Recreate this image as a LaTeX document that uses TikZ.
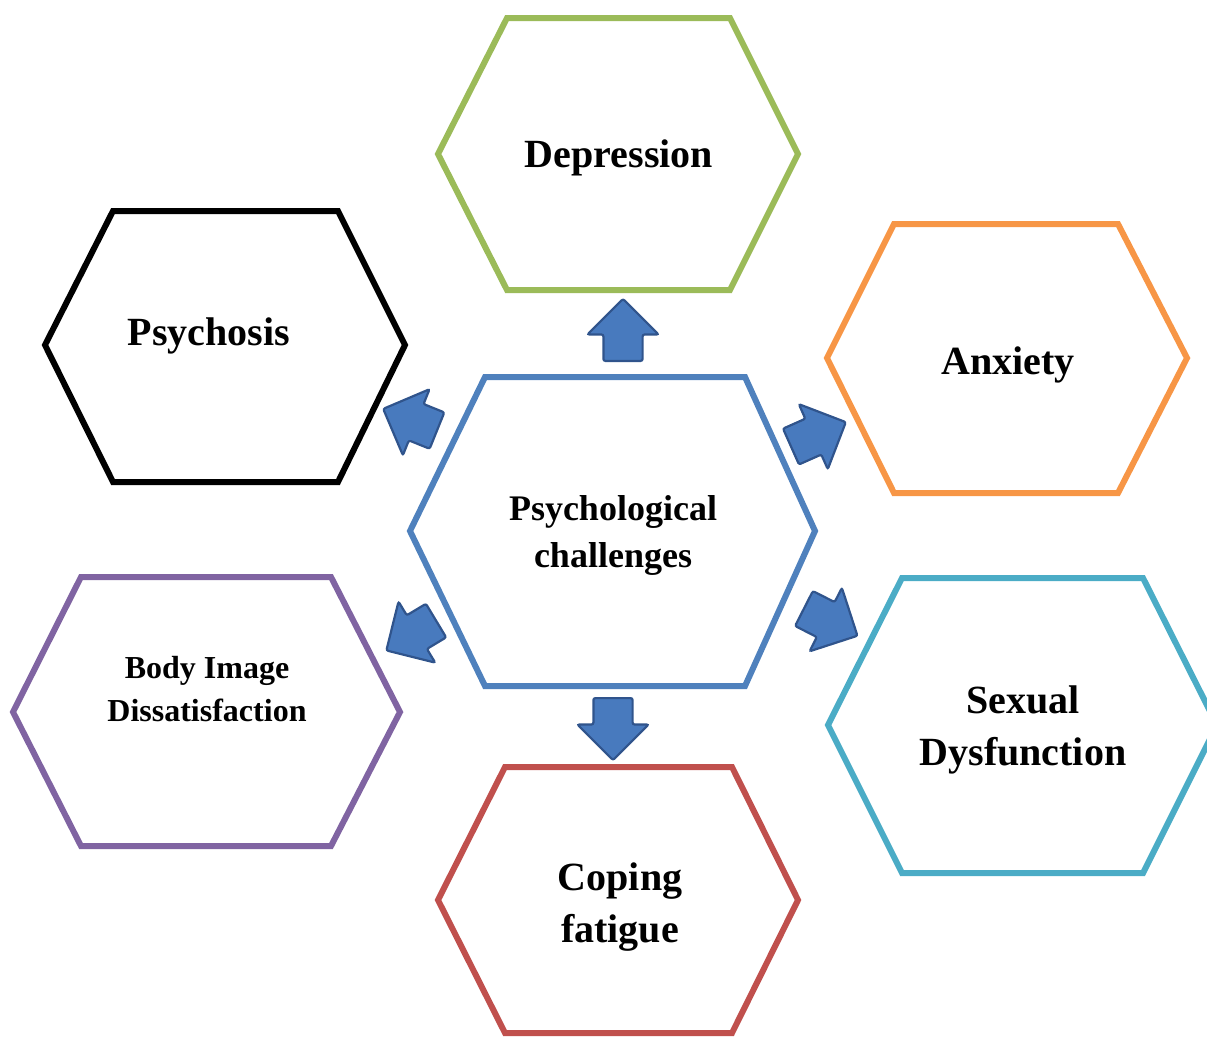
\documentclass[tikz,border=0pt]{standalone}
\usepackage{fontspec}
\setmainfont{Liberation Serif}
\usetikzlibrary{shapes.arrows}

\definecolor{hexgreen}{RGB}{155,187,89}
\definecolor{hexorange}{RGB}{247,150,70}
\definecolor{hexblue}{RGB}{79,129,189}
\definecolor{hexpurple}{RGB}{128,100,162}
\definecolor{hexteal}{RGB}{75,172,198}
\definecolor{hexred}{RGB}{192,80,77}
\definecolor{arrowfill}{RGB}{72,122,190}
\definecolor{arrowline}{RGB}{48,84,140}

\tikzset{
  hexline/.style={line width=6pt, line join=miter},
  hextext/.style={inner sep=0.75pt, align=center, font=\fontsize{40}{52}\selectfont\bfseries},
  blockarrow/.style={single arrow, draw=arrowline, fill=arrowfill, line width=2.2pt,
    minimum height=62pt, minimum width=70pt, single arrow head extend=16pt,
    inner xsep=0pt, inner ysep=18.5pt, rounded corners=2pt, anchor=tail}
}

\begin{document}
\begin{tikzpicture}[x=1pt,y=1pt,yscale=-1,xscale=1]
\useasboundingbox (0,0) rectangle (1207,1037);

%Shape: Hexagon [Depression]
\draw [hexline, hexgreen] (507,18) -- (730,18) -- (798,154) -- (730,290) -- (507,290) -- (438,154) -- cycle ;
%Shape: Hexagon [Psychosis]
\draw [hexline, black] (113,211) -- (338,211) -- (405,345) -- (338,482) -- (113,482) -- (45,345) -- cycle ;
%Shape: Hexagon [Anxiety]
\draw [hexline, hexorange] (894,224) -- (1118,224) -- (1187,358) -- (1118,493) -- (894,493) -- (827,358) -- cycle ;
%Shape: Hexagon [Psychological challenges]
\draw [hexline, hexblue] (485,377) -- (745,377) -- (815,531) -- (745,686) -- (485,686) -- (410,531) -- cycle ;
%Shape: Hexagon [Body Image]
\draw [hexline, hexpurple] (81,577) -- (331,577) -- (400,712) -- (331,846) -- (81,846) -- (13,712) -- cycle ;
%Shape: Hexagon [Sexual Dysfunction]
\draw [hexline, hexteal] (902,578) -- (1143,578) -- (1217,725) -- (1143,873) -- (902,873) -- (828,725) -- cycle ;
%Shape: Hexagon [Coping fatigue]
\draw [hexline, hexred] (505,767) -- (732,767) -- (798,900) -- (732,1033) -- (505,1033) -- (438,900) -- cycle ;

%Block Arrows (placed by their tails)
\node [blockarrow, rotate=90] (arrdep) at (623,362) {};
\node [blockarrow, rotate=-90] (arrcop) at (613,697) {};
\node [blockarrow, rotate=158, minimum height=58pt] (arrpsy) at (438,431) {};
\node [blockarrow, rotate=24, minimum height=60pt] (arranx) at (790,447) {};
\node [blockarrow, rotate=211, minimum height=58pt] (arrbody) at (437,620) {};
\node [blockarrow, rotate=-27, minimum height=60pt] (arrsex) at (803,608) {};

% Text Node
\node [hextext] (dep) at (619,158) {Depression};
% Text Node
\node [hextext] (psy) at (209,336) {Psychosis};
% Text Node
\node [hextext] (anx) at (1008,365) {Anxiety};
% Text Node
\node [hextext, font=\fontsize{36}{47}\selectfont\bfseries] (ctr) at (613,535) {Psychological\\challenges};
% Text Node
\node [hextext, font=\fontsize{32}{43}\selectfont\bfseries] (body) at (207,689) {Body Image\\Dissatisfaction};
% Text Node
\node [hextext] (sex) at (1023,730) {Sexual\\Dysfunction};
% Text Node
\node [hextext] (cop) at (620,907) {Coping\\fatigue};

\end{tikzpicture}
\end{document}
